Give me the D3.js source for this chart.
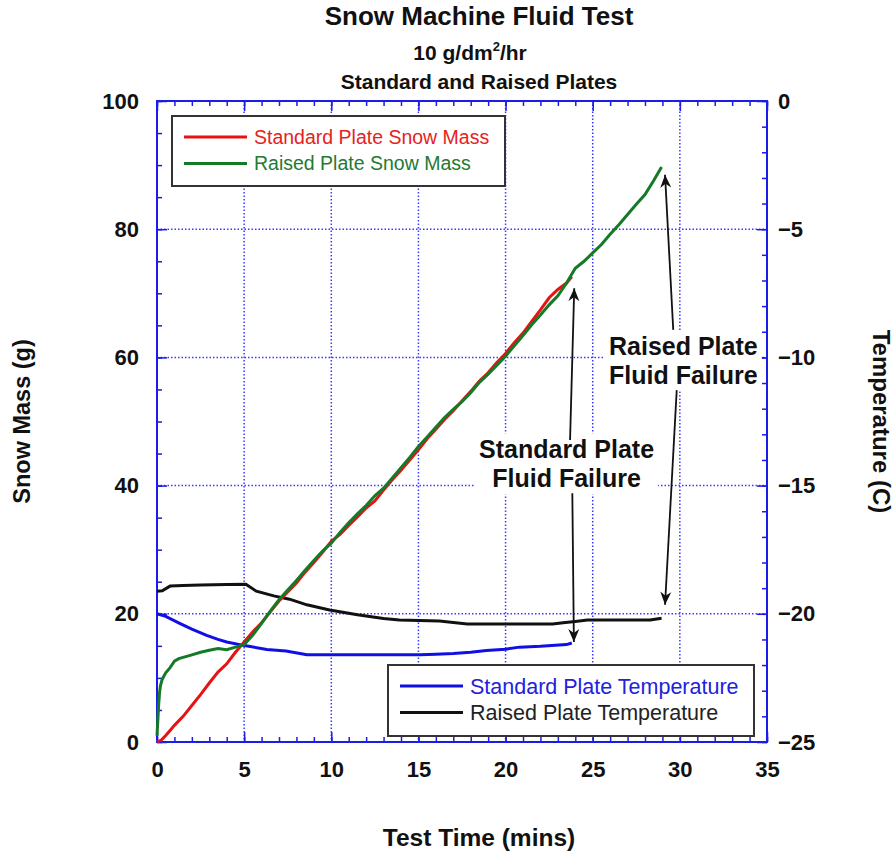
<!DOCTYPE html>
<html><head><meta charset="utf-8">
<script src="https://cdn.jsdelivr.net/npm/d3@7"></script>
<style>
body{margin:0;background:#fff;}
text{font-family:"Liberation Sans",Arial,Helvetica,sans-serif;}
</style>
</head><body>
<svg id="c" width="894" height="853"></svg>
<script>
// ---------------- DATA ----------------
const stdMassTime = [0,0.25,0.5,0.75,1,1.5,2,2.5,3,3.5,4,4.5,5,5.5,6,6.5,7,7.5,8,8.5,9,9.5,10,10.5,11,11.5,12,12.5,13,13.5,14,14.5,15,15.5,16,16.5,17,17.5,18,18.5,19,19.5,20,20.5,21,21.5,22,22.5,23,23.5,23.8];
const stdMass = [0,0.3,1.0,1.8,2.6,4.0,5.7,7.4,9.2,10.9,12.2,14.0,15.6,17.2,18.6,20.3,22.0,23.4,24.8,26.5,28.0,29.6,31.3,32.4,33.8,35.1,36.5,37.6,39.3,40.9,42.4,44.0,45.6,47.3,48.8,50.3,51.7,53.2,54.7,56.3,57.6,59.2,60.6,62.3,63.8,65.6,67.4,69.3,70.6,71.6,72.6];

const raisedMassTime = [0,0.05,0.1,0.15,0.2,0.3,0.5,0.75,1,1.25,1.5,2,2.5,3,3.5,4,4.5,5,5.5,6,6.5,7,7.5,8,8.5,9,9.5,10,10.5,11,11.5,12,12.5,13,13.5,14,14.5,15,15.5,16,16.5,17,17.5,18,18.5,19,19.5,20,20.5,21,21.5,22,22.5,23,23.5,24,24.5,25,25.5,26,26.5,27,27.5,28,28.5,28.95];
const raisedMass = [1.0,3.5,6.0,7.8,8.8,9.8,10.8,11.6,12.6,13.0,13.2,13.6,14.0,14.3,14.6,14.4,14.8,15.2,16.7,18.5,20.4,22.2,23.7,25.2,26.8,28.3,29.8,31.0,32.7,34.2,35.6,36.9,38.4,39.6,41.2,42.8,44.4,46.1,47.6,49.1,50.6,51.9,53.1,54.5,56.1,57.4,58.8,60.2,61.8,63.4,65.1,66.6,68.2,69.6,71.6,73.9,75.0,76.3,77.6,79.2,80.7,82.3,83.9,85.4,87.6,89.7];

const stdTempTime = [0,0.5,1.3,2,2.85,3.5,4,5.1,6.3,7.4,8.6,10,12,14,15.1,16,17,18,18.9,20,20.8,22,23.5,23.8];
const stdTemp = [-20.0,-20.1,-20.37,-20.6,-20.84,-21.0,-21.1,-21.25,-21.39,-21.45,-21.6,-21.6,-21.6,-21.6,-21.6,-21.58,-21.55,-21.5,-21.43,-21.38,-21.3,-21.27,-21.2,-21.14];

const raisedTempTime = [0,0.3,0.75,1.5,2.5,4,5.1,5.7,6.7,7.6,8.6,9.9,11.5,13,13.9,16.2,17.8,20,22.7,23.3,24,24.7,26,28.3,28.95];
const raisedTemp = [-19.12,-19.1,-18.92,-18.9,-18.88,-18.86,-18.85,-19.12,-19.3,-19.43,-19.65,-19.85,-20.04,-20.18,-20.24,-20.28,-20.4,-20.4,-20.4,-20.35,-20.3,-20.24,-20.24,-20.24,-20.17];

const xTicks = [0,5,10,15,20,25,30,35];
const yLeftTicks = [0,20,40,60,80,100];
const yRightTicks = [-25,-20,-15,-10,-5,0];

const seriesNames = ["Standard Plate Snow Mass","Raised Plate Snow Mass","Standard Plate Temperature","Raised Plate Temperature"];

// annotation arrows in data units [time, mass]: tail -> tip
const arrowTails = [[23.7,47.1],[23.83,38.8],[29.62,64.3],[29.82,54.9]];
const arrowTips  = [[23.94,70.8],[23.92,15.6],[29.15,88.5],[29.15,21.4]];
const annoLabels = [["Standard Plate","Fluid Failure"],["Raised Plate","Fluid Failure"]];
const annoAnchor = [[23.5,43.3],[30.2,59.4]]; // [time, mass] of text block centre

// ---------------- CHART ----------------
const svg = d3.select("#c");
const L=157,R=767,T=101,B=742;
const x = d3.scaleLinear().domain([0,35]).range([L,R]);
const yL = d3.scaleLinear().domain([0,100]).range([B,T]);
const yR = d3.scaleLinear().domain([-25,0]).range([B,T]);

const AX="#1c1ce8", GRID="#3a3aff";
const cRed="#e51414", cGreen="#157a28", cBlue="#1010e6", cBlack="#111";

// grid
const g = svg.append("g");
g.selectAll(".gx").data(xTicks.filter(d=>d>0&&d<35)).join("line")
 .attr("x1",d=>x(d)).attr("x2",d=>x(d)).attr("y1",T).attr("y2",B)
 .attr("stroke",GRID).attr("stroke-width",1.5).attr("stroke-dasharray","1.5,2");
g.selectAll(".gy").data(yLeftTicks.filter(d=>d>0&&d<100)).join("line")
 .attr("y1",d=>yL(d)).attr("y2",d=>yL(d)).attr("x1",L).attr("x2",R)
 .attr("stroke",GRID).attr("stroke-width",1.5).attr("stroke-dasharray","1.5,2");

// axes
function styleAxis(sel){
  sel.select(".domain").remove();
  sel.selectAll(".tick line").attr("stroke",AX).attr("stroke-width",1.5);
  sel.selectAll(".tick text").attr("fill","#111").attr("font-weight","bold").attr("font-size","22px").attr("font-family",'"Liberation Sans",Arial,sans-serif');
}
svg.append("g").attr("transform",`translate(0,${B})`).call(d3.axisBottom(x).tickValues(d3.range(0,36,1)).tickSize(-5).tickFormat("")).call(styleAxis);
svg.append("g").attr("transform",`translate(0,${B})`).call(d3.axisBottom(x).tickValues(xTicks).tickSize(-10).tickPadding(19)).call(styleAxis);
svg.append("g").attr("transform",`translate(0,${T})`).call(d3.axisTop(x).tickValues(d3.range(0,36,1)).tickSize(-5).tickFormat("")).call(styleAxis);
svg.append("g").attr("transform",`translate(0,${T})`).call(d3.axisTop(x).tickValues(xTicks).tickSize(-10).tickFormat("")).call(styleAxis);
svg.append("g").attr("transform",`translate(${L},0)`).call(d3.axisLeft(yL).tickValues(d3.range(0,101,5)).tickSize(-5).tickFormat("")).call(styleAxis);
svg.append("g").attr("transform",`translate(${L},0)`).call(d3.axisLeft(yL).tickValues(yLeftTicks).tickSize(-10).tickPadding(18)).call(styleAxis);
svg.append("g").attr("transform",`translate(${R},0)`).call(d3.axisRight(yR).tickValues(d3.range(-25,1,1)).tickSize(-5).tickFormat("")).call(styleAxis);
svg.append("g").attr("transform",`translate(${R},0)`).call(d3.axisRight(yR).tickValues(yRightTicks).tickSize(-10).tickPadding(11)).call(styleAxis);

svg.append("rect").attr("x",L).attr("y",T).attr("width",R-L).attr("height",B-T)
 .attr("fill","none").attr("stroke",AX).attr("stroke-width",2);

// annotation white boxes + text
const annoG = svg.append("g");
annoLabels.forEach((lines,i)=>{
  const cx=x(annoAnchor[i][0]), cy=yL(annoAnchor[i][1]);
  const tg = annoG.append("g");
  const t = tg.append("text").attr("text-anchor","middle").attr("font-weight","bold").attr("font-size","25px").attr("fill","#111");
  lines.forEach((s,j)=>t.append("tspan").attr("x",cx).attr("y",cy + (j===0?-6:23)).text(s));
  const bb = t.node().getBBox();
  tg.insert("rect","text").attr("x",bb.x-4).attr("y",bb.y-2).attr("width",bb.width+8).attr("height",bb.height+4).attr("fill","#fff");
});

// data lines
const lineM = d3.line().x(d=>x(d[0])).y(d=>yL(d[1]));
const lineT = d3.line().x(d=>x(d[0])).y(d=>yR(d[1]));
const zip=(a,b)=>a.map((v,i)=>[v,b[i]]);
svg.append("path").attr("d",lineT(zip(raisedTempTime,raisedTemp))).attr("fill","none").attr("stroke",cBlack).attr("stroke-width",3);
svg.append("path").attr("d",lineT(zip(stdTempTime,stdTemp))).attr("fill","none").attr("stroke",cBlue).attr("stroke-width",3);
svg.append("path").attr("d",lineM(zip(stdMassTime,stdMass))).attr("fill","none").attr("stroke",cRed).attr("stroke-width",3);
svg.append("path").attr("d",lineM(zip(raisedMassTime,raisedMass))).attr("fill","none").attr("stroke",cGreen).attr("stroke-width",3);

// arrows
svg.append("defs").append("marker").attr("id","ah").attr("markerUnits","userSpaceOnUse")
 .attr("markerWidth",16).attr("markerHeight",16).attr("refX",0).attr("refY",0)
 .attr("viewBox","-14 -8 16 16").attr("orient","auto")
 .append("path").attr("d","M0,0 L-13,-5.5 L-9,0 L-13,5.5 Z").attr("fill","#111");
arrowTails.forEach((tl,i)=>{
  svg.append("line").attr("x1",x(tl[0])).attr("y1",yL(tl[1])).attr("x2",x(arrowTips[i][0])).attr("y2",yL(arrowTips[i][1]))
   .attr("stroke","#111").attr("stroke-width",1.8).attr("marker-end","url(#ah)");
});

// legends
function legend(bx,by,bw,bh,fs,items){
  const lg = svg.append("g");
  lg.append("rect").attr("x",bx).attr("y",by).attr("width",bw).attr("height",bh).attr("fill","#fff").attr("stroke","#333").attr("stroke-width",2);
  items.forEach((it,i)=>{
    const ly = by+21+i*26.5;
    lg.append("line").attr("x1",bx+12).attr("x2",bx+75).attr("y1",ly).attr("y2",ly).attr("stroke",it.c).attr("stroke-width",3);
    lg.append("text").attr("x",bx+82).attr("y",ly).attr("dy","0.35em").attr("font-size",fs).attr("fill",it.t).text(it.n);
  });
}
legend(172,116,333,70,"19.5px",[{n:seriesNames[0],c:cRed,t:"#e52222"},{n:seriesNames[1],c:cGreen,t:"#237a33"}]);
legend(388,665,366,71,"21.5px",[{n:seriesNames[2],c:cBlue,t:"#2222dd"},{n:seriesNames[3],c:cBlack,t:"#222"}]);

// titles
svg.append("text").attr("x",479).attr("y",25).attr("text-anchor","middle").attr("font-weight","bold").attr("font-size","26px").attr("fill","#111").text("Snow Machine Fluid Test");
const st = svg.append("text").attr("x",470).attr("y",60).attr("text-anchor","middle").attr("font-weight","bold").attr("font-size","21px").attr("fill","#111");
st.append("tspan").text("10 g/dm");
st.append("tspan").attr("dy",-9).attr("font-size","13px").text("2");
st.append("tspan").attr("dy",9).text("/hr");
svg.append("text").attr("x",479).attr("y",89).attr("text-anchor","middle").attr("font-weight","bold").attr("font-size","21px").attr("fill","#111").text("Standard and Raised Plates");

svg.append("text").attr("transform",`translate(30,${(T+B)/2}) rotate(-90)`).attr("text-anchor","middle").attr("font-weight","bold").attr("font-size","23.5px").attr("fill","#111").text("Snow Mass (g)");
svg.append("text").attr("transform",`translate(873,${(T+B)/2}) rotate(90)`).attr("text-anchor","middle").attr("font-weight","bold").attr("font-size","24px").attr("fill","#111").text("Temperature (C)");
svg.append("text").attr("x",479).attr("y",846).attr("text-anchor","middle").attr("font-weight","bold").attr("font-size","24.5px").attr("fill","#111").text("Test Time (mins)");
</script>
</body></html>
